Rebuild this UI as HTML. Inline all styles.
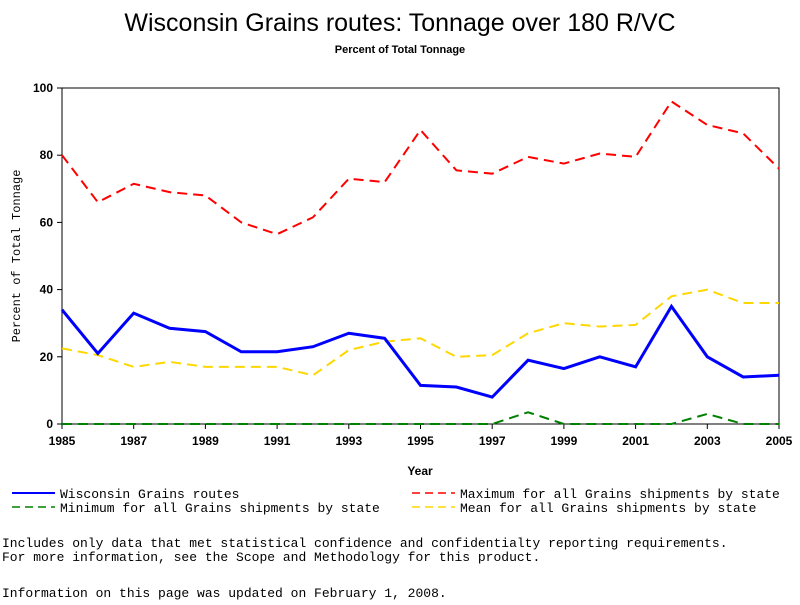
<!DOCTYPE html>
<html><head><meta charset="utf-8"><style>
body{margin:0;background:#fff;}
svg text{fill:#000;}
</style></head><body>
<svg width="800" height="600" xmlns="http://www.w3.org/2000/svg">
<text x="400" y="31" text-anchor="middle" font-family="Liberation Sans, sans-serif" font-size="25">Wisconsin Grains routes: Tonnage over 180 R/VC</text>
<text x="400" y="53" text-anchor="middle" font-family="Liberation Sans, sans-serif" font-size="11" font-weight="bold">Percent of Total Tonnage</text>
<rect x="62" y="88" width="717" height="336" fill="none" stroke="#000" stroke-width="1"/>
<g id="axes"></g>
<g id="series"></g>
<text x="20" y="256" transform="rotate(-90 20 256)" text-anchor="middle" font-family="Liberation Mono, monospace" font-size="12">Percent of Total Tonnage</text>
<text x="420" y="475" text-anchor="middle" font-family="Liberation Sans, sans-serif" font-size="12" font-weight="bold">Year</text>
<g font-family="Liberation Mono, monospace" font-size="13">
<g><line x1="12" y1="493" x2="55" y2="493" stroke="#0000ff" stroke-width="2"/><text x="60" y="498">Wisconsin Grains routes</text></g>
<g><line x1="412" y1="493" x2="455" y2="493" stroke="#ff0000" stroke-dasharray="8,5" stroke-width="1.5"/><text x="460" y="498">Maximum for all Grains shipments by state</text></g>
<g><line x1="12" y1="507" x2="55" y2="507" stroke="#008000" stroke-dasharray="8,5" stroke-width="1.5"/><text x="60" y="512">Minimum for all Grains shipments by state</text></g>
<g><line x1="412" y1="507" x2="455" y2="507" stroke="#ffd700" stroke-dasharray="8,5" stroke-width="1.5"/><text x="460" y="512">Mean for all Grains shipments by state</text></g>
</g>
<g font-family="Liberation Mono, monospace" font-size="13">
<text x="2" y="547">Includes only data that met statistical confidence and confidentialty reporting requirements.</text>
<text x="2" y="561">For more information, see the Scope and Methodology for this product.</text>
<text x="2" y="597">Information on this page was updated on February 1, 2008.</text>
</g>
</svg>
<script>
const years=[1985,1986,1987,1988,1989,1990,1991,1992,1993,1994,1995,1996,1997,1998,1999,2000,2001,2002,2003,2004,2005];
const wisconsin=[34,21,33,28.5,27.5,21.5,21.5,23,27,25.5,11.5,11,8,19,16.5,20,17,35,20,14,14.5];
const maximum=[80,66,71.5,69,68,60,56.5,61.5,73,72,87.5,75.5,74.5,79.5,77.5,80.5,79.5,96,89,86.5,76];
const mean=[22.5,20.5,17,18.5,17,17,17,14.5,22,24.5,25.5,20,20.5,27,30,29,29.5,38,40,36,36];
const minimum=[0,0,0,0,0,0,0,0,0,0,0,0,0,3.5,0,0,0,0,3,0,0];
const xTicks=[1985,1987,1989,1991,1993,1995,1997,1999,2001,2003,2005];
const yTicks=[0,20,40,60,80,100];
const NS="http://www.w3.org/2000/svg";
const x=v=>62+(v-1985)*(717/20);
const y=v=>424-v*3.36;
const axes=document.getElementById('axes');
function mk(tag,attrs,parent){const e=document.createElementNS(NS,tag);for(const k in attrs)e.setAttribute(k,attrs[k]);parent.appendChild(e);return e;}
xTicks.forEach(t=>{
  const l=mk('line',{x1:x(t),x2:x(t),y1:424,y2:429,stroke:'#000'},axes);
  
  
  const tx=mk('text',{x:x(t),y:445,'text-anchor':'middle','font-family':'Liberation Sans, sans-serif','font-size':12,'font-weight':'bold'},axes);
  tx.textContent=t;
  
  
});
yTicks.forEach(t=>{
  const l=mk('line',{x1:57,x2:62,y1:y(t),y2:y(t),stroke:'#000'},axes);
  
  
  const tx=mk('text',{x:53,y:y(t)+4,'text-anchor':'end','font-family':'Liberation Sans, sans-serif','font-size':12,'font-weight':'bold'},axes);
  tx.textContent=t;
  
  
});
const sg=document.getElementById('series');
function line(data,color,dash,w,name){
  const p=mk('polyline',{points:data.map((v,i)=>x(years[i])+','+y(v)).join(' '),fill:'none',stroke:color,'stroke-width':w},sg);
  if(dash)p.setAttribute('stroke-dasharray',dash);
  
  
}
line(minimum,'#008000','10,6',2,'minimum-line');
line(mean,'#ffd700','10,6',2,'mean-line');
line(maximum,'#ff0000','10,6',2,'maximum-line');
line(wisconsin,'#0000ff',null,3,'wisconsin-line');
</script>
</body></html>
